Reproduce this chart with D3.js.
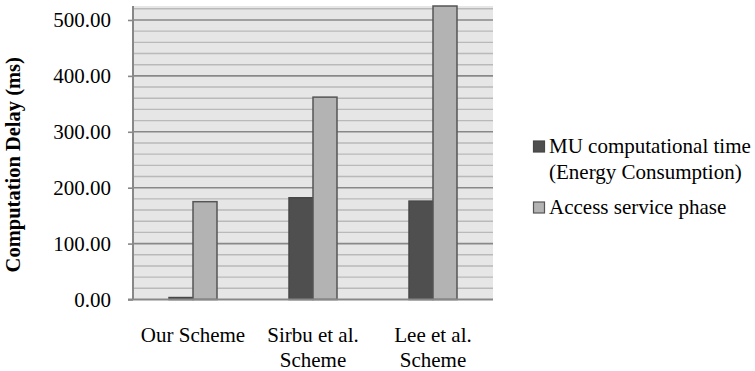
<!DOCTYPE html>
<html>
<head>
<meta charset="utf-8">
<script src="https://cdn.jsdelivr.net/npm/d3@7"></script>
<style>
  html, body { margin: 0; padding: 0; background: #ffffff; }
  svg { display: block; }
  text { font-family: "Liberation Serif", "Times New Roman", serif; fill: #000; }
</style>
</head>
<body>
<svg id="chart" width="755" height="371"></svg>
<script>
// ---- data ----
const categories = ["Our Scheme", "Sirbu et al. Scheme", "Lee et al. Scheme"];
const categoryLabelLines = [["Our Scheme"], ["Sirbu et al.", "Scheme"], ["Lee et al.", "Scheme"]];
const seriesNames = ["MU computational time (Energy Consumption)", "Access service phase"];
const legendLines = [["MU computational time", "(Energy Consumption)"], ["Access service phase"]];
const muComputationalTime = [3.5, 182, 176];
const accessServicePhase = [175, 362, 525];
const yMajorTicks = [0, 100, 200, 300, 400, 500];
const yMinorTicks = d3.range(0, 521, 20);
const yTickLabels = ["0.00", "100.00", "200.00", "300.00", "400.00", "500.00"];
const yTitle = "Computation Delay (ms)";
const seriesColors = ["#4f4f4f", "#b3b3b3"];
const seriesStrokes = ["#474747", "#555555"];

// ---- layout ----
const svg = d3.select("#chart");
const plot = { left: 133, right: 493, top: 6, bottom: 299.5 };

const x = d3.scaleBand().domain(categories).range([plot.left, plot.right]).paddingInner(0).paddingOuter(0);
const bw = x.bandwidth();
const xs = d3.scaleBand().domain(seriesNames).range([bw * 0.3, bw * 0.7]).padding(0);
const y = d3.scaleLinear().domain([0, 525]).range([plot.bottom, plot.top]);

// plot background
svg.append("rect")
  .attr("x", plot.left).attr("y", plot.top)
  .attr("width", plot.right - plot.left).attr("height", plot.bottom - plot.top)
  .attr("fill", "#e6e6e6");

// minor gridlines
svg.append("g").selectAll("line").data(yMinorTicks.filter(v => v % 100 !== 0)).join("line")
  .attr("x1", plot.left).attr("x2", plot.right)
  .attr("y1", d => y(d)).attr("y2", d => y(d))
  .attr("stroke", "#b9b9b9").attr("stroke-width", 1.4);

// major gridlines
svg.append("g").selectAll("line").data(yMajorTicks.filter(v => v !== 0)).join("line")
  .attr("x1", plot.left).attr("x2", plot.right)
  .attr("y1", d => y(d)).attr("y2", d => y(d))
  .attr("stroke", "#888888").attr("stroke-width", 1.6);

// bars
const rows = categories.map((c, i) => ({ cat: c, values: [muComputationalTime[i], accessServicePhase[i]] }));
const groups = svg.append("g").selectAll("g").data(rows).join("g")
  .attr("transform", d => `translate(${x(d.cat)},0)`);
groups.selectAll("rect").data(d => d.values.map((v, k) => ({ v, k }))).join("rect")
  .attr("x", d => xs(seriesNames[d.k]))
  .attr("width", xs.bandwidth())
  .attr("y", d => y(d.v))
  .attr("height", d => y(0) - y(d.v))
  .attr("fill", d => seriesColors[d.k])
  .attr("stroke", d => seriesStrokes[d.k])
  .attr("stroke-width", 1.5);

// y axis
const yAxis = d3.axisLeft(y).tickValues(yMajorTicks).tickSize(5)
  .tickFormat((d, i) => yTickLabels[i]);
const gy = svg.append("g").attr("transform", `translate(${plot.left},0)`).call(yAxis);
gy.select(".domain").remove();
gy.selectAll(".tick line").attr("stroke", "#888888").attr("stroke-width", 1.6);
gy.selectAll(".tick text")
  .attr("x", -22)
  .style("font-family", "'Liberation Serif', 'Times New Roman', serif")
  .style("font-size", "21px").attr("fill", "#000");
svg.append("line")
  .attr("x1", plot.left).attr("x2", plot.left)
  .attr("y1", plot.top).attr("y2", plot.bottom)
  .attr("stroke", "#888888").attr("stroke-width", 2);

// x axis line
svg.append("line")
  .attr("x1", plot.left - 5).attr("x2", plot.right)
  .attr("y1", y(0)).attr("y2", y(0))
  .attr("stroke", "#888888").attr("stroke-width", 2);

// x labels
const xl = svg.append("g").selectAll("text").data(categories).join("text")
  .attr("x", d => x(d) + bw / 2)
  .attr("y", 342)
  .attr("text-anchor", "middle")
  .style("font-size", "21px");
xl.selectAll("tspan").data((d, i) => categoryLabelLines[i]).join("tspan")
  .attr("x", function() { return d3.select(this.parentNode).attr("x"); })
  .attr("dy", (d, j) => j === 0 ? 0 : 24.5)
  .text(d => d);

// y title
svg.append("text")
  .attr("transform", `translate(19.5,${(plot.top + plot.bottom) / 2 + 12}) rotate(-90)`)
  .attr("text-anchor", "middle")
  .style("font-size", "20.5px").style("font-weight", "bold")
  .text(yTitle);

// legend
const legendY = [153, 214];
const lg = svg.append("g");
seriesNames.forEach((s, k) => {
  lg.append("rect")
    .attr("x", 533.5).attr("y", legendY[k] - 12)
    .attr("width", 11).attr("height", 11)
    .attr("fill", seriesColors[k])
    .attr("stroke", seriesStrokes[k]).attr("stroke-width", 1.2);
  const t = lg.append("text").attr("x", 549).attr("y", legendY[k]).style("font-size", "21px");
  t.selectAll("tspan").data(legendLines[k]).join("tspan")
    .attr("x", 549).attr("dy", (d, j) => j === 0 ? 0 : 26)
    .text(d => d);
});
</script>
</body>
</html>
